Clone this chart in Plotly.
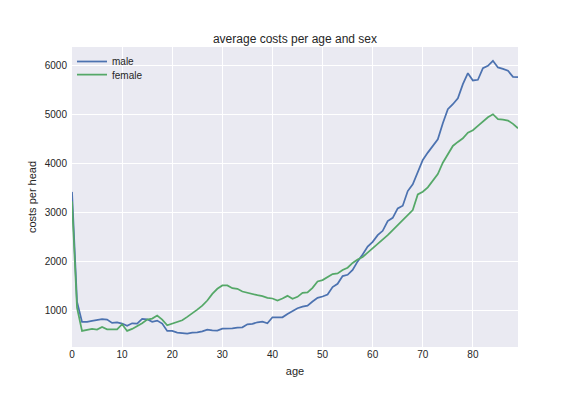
import plotly.graph_objects as go

ages = list(range(90))

male = [3420, 1180, 770, 770, 790, 803, 825, 815, 748, 760, 735, 690, 740, 735, 830, 823, 770, 796, 735, 585,
        585, 551, 544, 531, 551, 555, 577, 611, 597, 590, 631, 631, 638, 652, 659, 720, 727, 761, 775, 741,
        863, 863, 863, 932, 986, 1048, 1082, 1102, 1184, 1259, 1287, 1328, 1478, 1546, 1703, 1730, 1828, 2002, 2145, 2305,
        2402, 2538, 2627, 2824, 2892, 3083, 3138, 3437, 3574, 3832, 4071, 4221, 4357, 4493, 4820, 5106, 5208, 5331, 5617, 5842,
        5692, 5706, 5944, 5992, 6094, 5958, 5930, 5890, 5767, 5760]

female = [3230, 1060, 585, 612, 626, 612, 667, 619, 619, 619, 721, 585, 626, 680, 741, 816, 837, 898, 816, 701,
          735, 769, 803, 871, 939, 1020, 1100, 1205, 1341, 1444, 1512, 1512, 1457, 1444, 1389, 1362, 1328, 1314, 1294, 1259,
          1246, 1205, 1246, 1300, 1239, 1280, 1362, 1369, 1464, 1594, 1621, 1683, 1744, 1758, 1826, 1874, 1971, 2040, 2094, 2180,
          2266, 2354, 2436, 2538, 2640, 2742, 2858, 2967, 3049, 3369, 3424, 3512, 3662, 3785, 4016, 4193, 4357, 4439, 4514, 4629,
          4677, 4766, 4847, 4943, 5004, 4902, 4895, 4875, 4807, 4718]

x_ticks = [0, 10, 20, 30, 40, 50, 60, 70, 80]
y_ticks = [1000, 2000, 3000, 4000, 5000, 6000]

font_family = "Liberation Sans, Arial, DejaVu Sans, sans-serif"
text_color = "#262626"

fig = go.Figure()
fig.add_trace(go.Scatter(x=ages, y=male, mode="lines", name="male", legend="legend",
                         line=dict(color="#4C72B0", width=1.75)))
fig.add_trace(go.Scatter(x=ages, y=female, mode="lines", name="female", legend="legend2",
                         line=dict(color="#55A868", width=1.75)))

legend_style = dict(xanchor="left", yanchor="top", bgcolor="rgba(0,0,0,0)",
                    font=dict(size=10, color=text_color), itemwidth=30)

fig.update_layout(
    width=576, height=396,
    margin=dict(l=72, r=58, t=47, b=49, autoexpand=False),
    paper_bgcolor="white",
    plot_bgcolor="#EAEAF2",
    font=dict(family=font_family, size=10, color=text_color),
    title=dict(text="average costs per age and sex", x=0.5, xanchor="center",
               xref="paper", y=1, yref="paper", yanchor="bottom", pad=dict(b=4),
               font=dict(size=12, color=text_color)),
    showlegend=True,
    legend=dict(x=0.0, y=1.0, **legend_style),
    legend2=dict(x=0.0, y=0.956, **legend_style),
)

fig.update_xaxes(range=[0, 89], tickvals=x_ticks, showgrid=True, gridcolor="white", gridwidth=1,
                 zeroline=False, showline=False, ticks="", ticklabelstandoff=0, automargin=False,
                 title=dict(text="age", font=dict(size=11, color=text_color), standoff=8))
fig.update_yaxes(range=[257, 6375], tickvals=y_ticks, showgrid=True, gridcolor="white", gridwidth=1,
                 zeroline=False, showline=False, ticks="", ticklabelstandoff=4, automargin=False,
                 title=dict(text="costs per head", font=dict(size=11, color=text_color), standoff=5))

fig.write_html("out.html", config={"displayModeBar": False},
               post_script="document.body.style.margin='0';")
